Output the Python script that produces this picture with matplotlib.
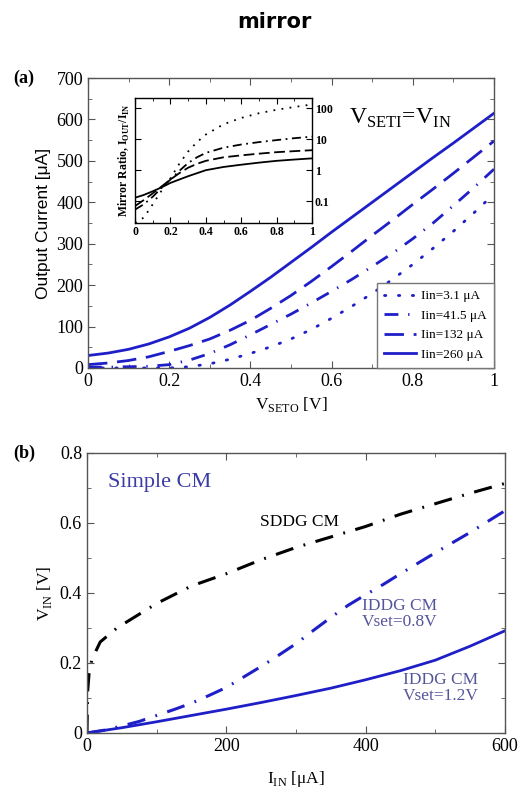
import numpy as np
import matplotlib
matplotlib.use('Agg')
from matplotlib import pyplot as plt
from matplotlib.ticker import MultipleLocator, FixedLocator, FormatStrFormatter

# (a) output current vs V_SETO for four input currents
vseto = [0.0, 0.05, 0.1, 0.15, 0.2, 0.25, 0.3, 0.35, 0.4, 0.45, 0.5,
         0.55, 0.6, 0.65, 0.7, 0.75, 0.8, 0.85, 0.9, 0.95, 1.0]
iout_260 = [30, 36, 45, 58, 75, 96, 122, 152, 185, 219, 255,
            291, 328, 364, 400, 436, 472, 508, 543, 579, 615]
iout_132 = [8, 12, 18, 27, 40, 54, 70, 91, 115, 144, 175,
            209, 245, 282, 320, 357, 395, 432, 470, 509, 548]
iout_41 = [2, 2, 3, 4, 8, 19, 35, 56, 80, 105, 130,
           157, 185, 214, 245, 277, 312, 350, 392, 435, 480]
iout_3 = [0, 0, 0, 0, 0, 3, 10, 21, 35, 51, 70,
          93, 120, 149, 180, 214, 250, 289, 330, 374, 420]

# inset: mirror ratio (log scale)
vr = [0.0, 0.05, 0.1, 0.15, 0.2, 0.25, 0.3, 0.35, 0.4, 0.5, 0.6, 0.7, 0.8, 0.9, 1.0]
ratio_3 = [0.02, 0.03, 0.08, 0.22, 0.55, 1.6, 4.0, 8.0, 14, 30, 48, 68, 88, 108, 130]
ratio_41 = [0.054, 0.08, 0.14, 0.27, 0.5, 0.95, 1.7, 2.6, 3.6, 5.3, 6.7, 8.0, 9.3, 10.7, 12]
ratio_132 = [0.07, 0.11, 0.18, 0.3, 0.5, 0.8, 1.2, 1.6, 2.0, 2.6, 3.0, 3.4, 3.8, 4.1, 4.4]
ratio_260 = [0.13, 0.16, 0.21, 0.28, 0.39, 0.5, 0.64, 0.8, 1.0, 1.27, 1.5, 1.75, 2.0, 2.2, 2.4]

# (b) input voltage vs input current
iin_sddg = [0, 1, 3, 7, 19, 43, 100, 150, 200, 250, 300, 350, 400, 450, 500, 550, 600]
vin_sddg = [0, 0.12, 0.17, 0.21, 0.26, 0.30, 0.37, 0.42, 0.455, 0.495, 0.53, 0.56,
            0.59, 0.625, 0.655, 0.685, 0.713]
iin_08 = [0, 25, 50, 75, 100, 125, 150, 175, 200, 225, 250, 275, 300,
          325, 350, 375, 400, 425, 450, 475, 500, 525, 550, 575, 600]
vin_08 = [0, 0.008, 0.02, 0.033, 0.05, 0.067, 0.085, 0.107, 0.13, 0.16, 0.19,
          0.222, 0.255, 0.293, 0.33, 0.365, 0.395, 0.424, 0.455, 0.485, 0.515,
          0.544, 0.573, 0.604, 0.635]
iin_12 = [0, 50, 100, 150, 200, 250, 300, 350, 400, 450, 500, 550, 600]
vin_12 = [0, 0.015, 0.032, 0.05, 0.068, 0.087, 0.107, 0.128, 0.152, 0.178,
          0.208, 0.248, 0.292]

blue = '#1f1fc8'
txt_blue = '#3b3ba6'
txt_purple = '#55559a'
serif = 'Liberation Serif'
fmt = FormatStrFormatter('%g')

fig = plt.figure(figsize=(5.32, 7.93), dpi=100)
fig.text(0.515, 0.972, 'mirror', ha='center', va='center', fontsize=15,
         fontweight='bold', family='DejaVu Sans')


def style_axes(ax):
    for s in ax.spines.values():
        s.set_color('#555555')
        s.set_linewidth(1.0)
    ax.xaxis.set_major_formatter(fmt)
    ax.yaxis.set_major_formatter(fmt)
    ax.tick_params(which='both', direction='in', top=True, right=True,
                   colors='#555555', labelcolor='black')
    ax.tick_params(which='major', length=5, labelsize=13)
    ax.tick_params(which='minor', length=3)
    for lab in ax.get_xticklabels() + ax.get_yticklabels():
        lab.set_family(serif)


# ---- panel (a)
ax1 = fig.add_axes([0.1654, 0.536, 0.7632, 0.3656])
ax1.plot(vseto, iout_3, color=blue, lw=2, ls=(0, (0.5, 4.5)),
         dash_capstyle='round', label=u'Iin=3.1 \u03bcA')
ax1.plot(vseto, iout_41, color=blue, lw=2, ls=(0, (5, 3.5, 0.5, 3.5)),
         label=u'Iin=41.5 \u03bcA')
ax1.plot(vseto, iout_132, color=blue, lw=2, ls=(0, (7, 3.5)),
         label=u'Iin=132 \u03bcA')
ax1.plot(vseto, iout_260, color=blue, lw=2, label=u'Iin=260 \u03bcA')
ax1.set_xlim(0, 1)
ax1.set_ylim(0, 700)
ax1.xaxis.set_major_locator(MultipleLocator(0.2))
ax1.xaxis.set_minor_locator(MultipleLocator(0.1))
ax1.yaxis.set_major_locator(MultipleLocator(100))
ax1.yaxis.set_minor_locator(MultipleLocator(50))
style_axes(ax1)
ax1.set_ylabel(u'Output Current [\u03bcA]', fontsize=12.5, family='Liberation Sans')
ax1.set_xlabel(r'V$_{\mathregular{SETO}}$ [V]', fontsize=12.5, family=serif)
ax1.text(0.77, 0.86, r'V$_{\mathregular{SETI}}$=V$_{\mathregular{IN}}$',
         transform=ax1.transAxes, ha='center', va='center', fontsize=17,
         family=serif)
leg = ax1.legend(loc='lower right', prop={'family': serif, 'size': 9.5},
                 handlelength=2.4, fancybox=False, framealpha=1,
                 borderaxespad=0, labelspacing=0.55, borderpad=0.55,
                 handletextpad=0.4)
leg.get_frame().set_edgecolor('#777777')
leg.get_frame().set_linewidth(1.0)
fig.text(0.025, 0.9016, '(a)', fontsize=13, fontweight='bold', family=serif,
         va='center')

# inset
axi = fig.add_axes([0.2538, 0.7188, 0.3327, 0.1576])
axi.semilogy(vr, ratio_3, color='black', lw=1.3, ls=(0, (1, 3.5)))
axi.semilogy(vr, ratio_41, color='black', lw=1.3, ls=(0, (5, 2.5, 1, 2.5)))
axi.semilogy(vr, ratio_132, color='black', lw=1.3, ls=(0, (6, 2.5)))
axi.semilogy(vr, ratio_260, color='black', lw=1.3)
axi.set_xlim(0, 1)
axi.set_ylim(0.02, 210)
axi.xaxis.set_major_locator(MultipleLocator(0.2))
axi.xaxis.set_minor_locator(MultipleLocator(0.1))
axi.xaxis.set_major_formatter(fmt)
axi.yaxis.set_major_locator(FixedLocator([0.1, 1, 10, 100]))
axi.yaxis.set_minor_locator(FixedLocator([]))
axi.yaxis.set_major_formatter(fmt)
for s in axi.spines.values():
    s.set_linewidth(1.0)
axi.tick_params(which='both', direction='in', top=True, right=True,
                left=True, labelleft=False, labelright=True, labelsize=8.5,
                pad=2)
axi.tick_params(which='major', length=4)
axi.tick_params(which='minor', length=2)
for lab in axi.get_xticklabels() + axi.get_yticklabels():
    lab.set_family(serif)
    lab.set_fontweight('bold')
axi.set_ylabel(r'Mirror Ratio, I$_{\mathregular{OUT}}$/I$_{\mathregular{IN}}$',
               fontsize=8.5, family=serif, fontweight='bold', labelpad=2)

# ---- panel (b)
ax2 = fig.add_axes([0.1635, 0.0757, 0.7857, 0.3531])
ax2.plot(iin_sddg, vin_sddg, color='black', lw=2.2, ls=(0, (6, 3.5, 0.6, 3.5)))
ax2.plot(iin_08, vin_08, color=blue, lw=2.2, ls=(0, (6, 3.5, 0.6, 3.5)))
ax2.plot(iin_12, vin_12, color=blue, lw=2)
ax2.set_xlim(0, 600)
ax2.set_ylim(0, 0.8)
ax2.xaxis.set_major_locator(MultipleLocator(200))
ax2.xaxis.set_minor_locator(MultipleLocator(100))
ax2.yaxis.set_major_locator(MultipleLocator(0.2))
ax2.yaxis.set_minor_locator(MultipleLocator(0.1))
style_axes(ax2)
ax2.set_xlabel(r'I$_{\mathregular{IN}}$ [$\mathregular{\mu}$A]', fontsize=12.5,
               family=serif, labelpad=10)
ax2.set_ylabel(r'V$_{\mathregular{IN}}$ [V]', fontsize=12.5, family=serif)
ax2.text(30, 0.715, 'Simple CM', fontsize=16, color=txt_blue, family=serif,
         va='center')
ax2.text(248, 0.603, 'SDDG CM', fontsize=12.5, color='black', family=serif,
         va='center')
ax2.text(449, 0.34, 'IDDG CM\nVset=0.8V', fontsize=12.5, color=txt_purple,
         family=serif, va='center', ha='center', linespacing=1.0)
ax2.text(508, 0.129, 'IDDG CM\nVset=1.2V', fontsize=12.5, color=txt_purple,
         family=serif, va='center', ha='center', linespacing=1.0)
fig.text(0.025, 0.4288, '(b)', fontsize=13, fontweight='bold', family=serif,
         va='center')

fig.savefig('out.png', dpi=100)
